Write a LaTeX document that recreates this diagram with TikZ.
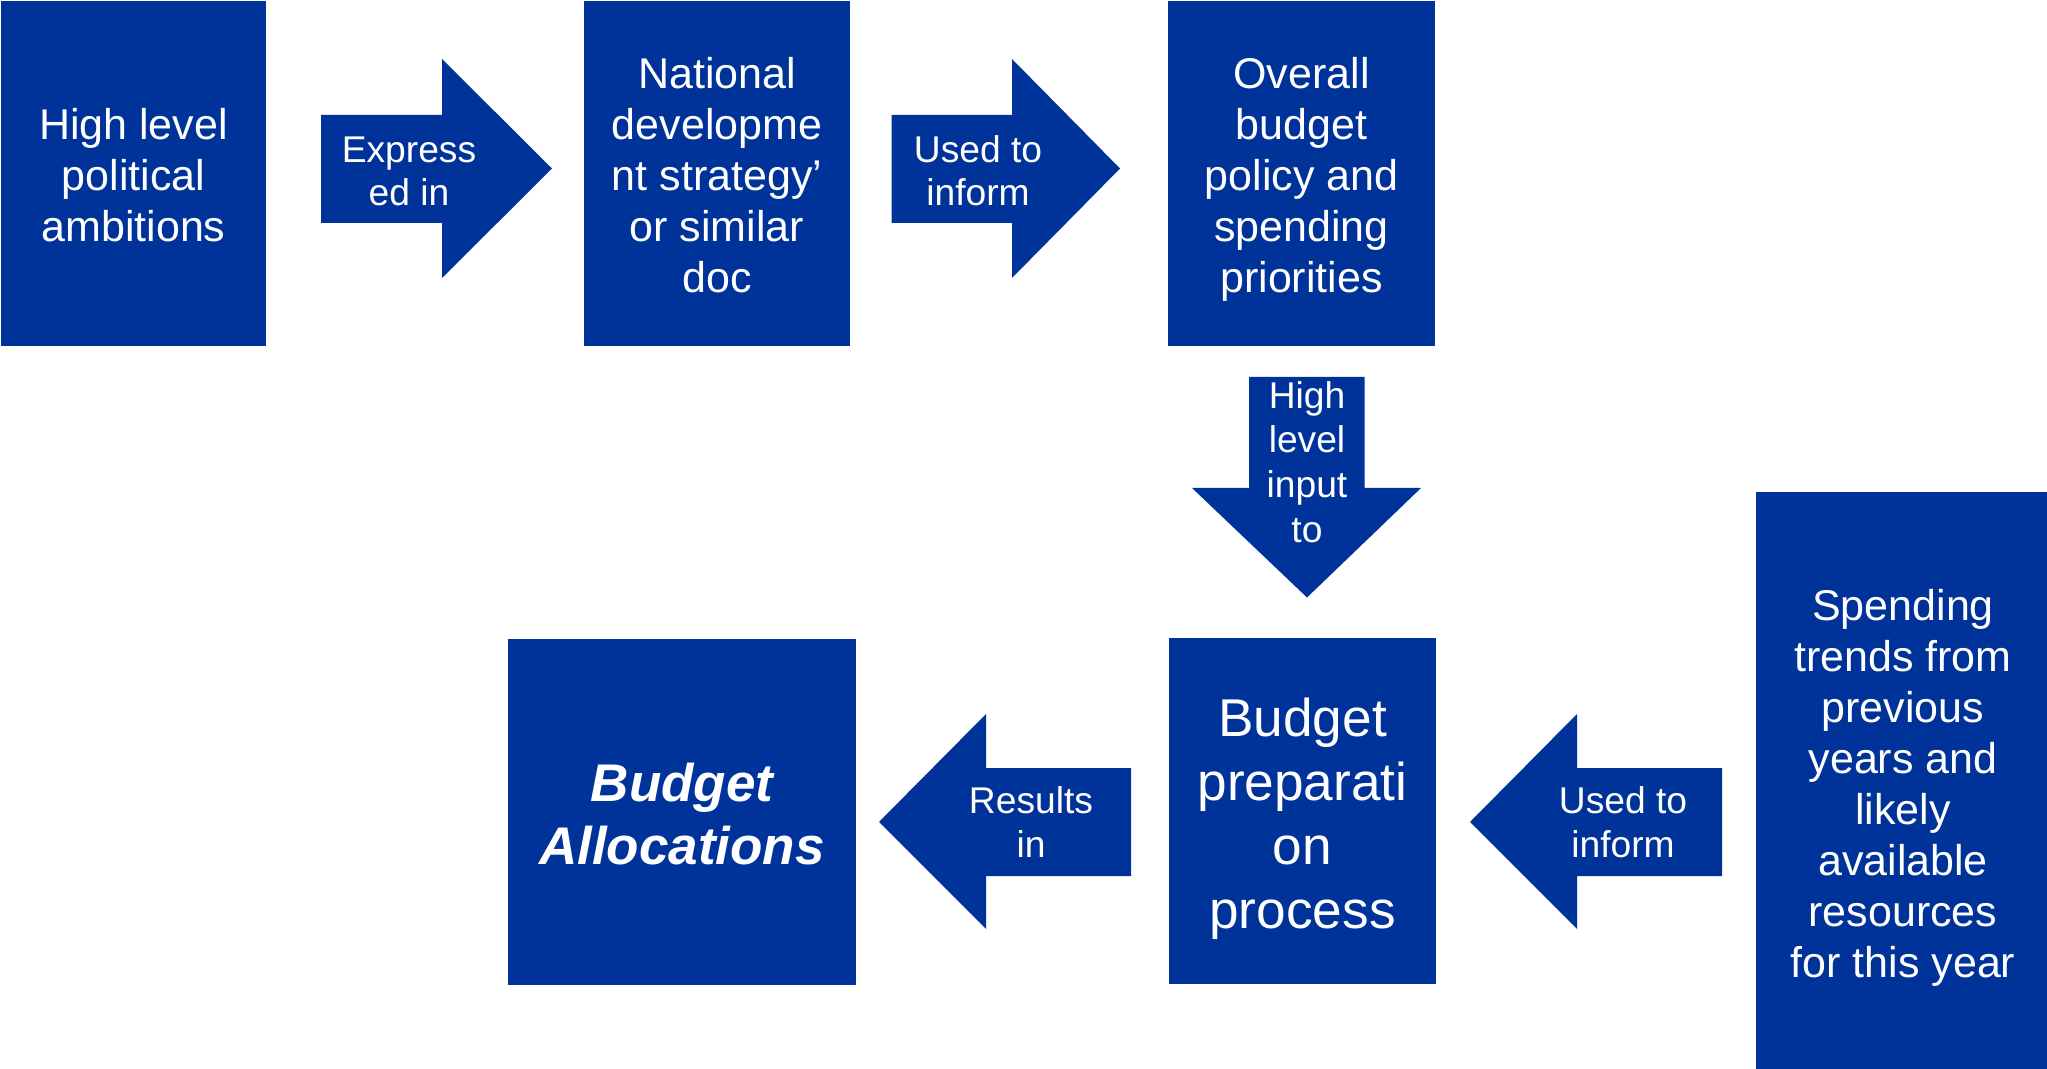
\documentclass[tikz,border=0pt]{standalone}
\usepackage{fontspec}
\setmainfont{Liberation Sans}
\definecolor{planblue}{RGB}{0,51,153}

% struts for first and last lines, so boxes centre on line height
\newcommand\topstrut{\rule{0pt}{1.005em}}
\newcommand\botstrut{\rule[-0.214em]{0pt}{0pt}}

\tikzset{
  block/.style={fill=planblue, text=white, align=center, inner sep=0pt,
    font=\fontsize{21.5}{25.5}\selectfont},
  bigblock/.style={block, font=\fontsize{26.6}{32}\selectfont},
  blockarrow/.style={fill=planblue},
  arrowtext/.style={text=white, align=center, inner sep=0pt,
    font=\fontsize{18.6}{21.8}\selectfont},
}

\begin{document}
\begin{tikzpicture}[x=0.5pt,y=-0.5pt]
\useasboundingbox (0,0) rectangle (2047,1069);

% top row
\node[block, minimum width=132.5pt, minimum height=172.5pt] (ambitions) at (133.5,173.5) {\topstrut High level\\political\\ambitions\botstrut};
\node[block, minimum width=133pt, minimum height=172.5pt] (strategy) at (717,173.5) {\topstrut National\\developme\\nt strategy’\\or similar\\doc\botstrut};
\node[block, minimum width=133.5pt, minimum height=172.5pt] (policy) at (1301.5,173.5) {\topstrut Overall\\budget\\policy and\\spending\\priorities\botstrut};

% bottom row
\node[bigblock, minimum width=174pt, minimum height=173pt, font=\fontsize{26.5}{31.3}\selectfont\bfseries\itshape] (alloc) at (682,812) {\topstrut Budget\\Allocations\botstrut};
\node[bigblock, minimum width=133.5pt, minimum height=173pt] (prep) at (1302.5,811) {\topstrut Budget\\preparati\\on\\process\botstrut};
\node[block, minimum width=147pt, minimum height=290pt] (trends) at (1903,782) {\topstrut Spending\\trends from\\previous\\years and\\likely\\available\\resources\\for this year\botstrut};

% block arrows
\fill[blockarrow] (321,115) -- (442,115) -- (442,59) -- (552,168.5) -- (442,278) -- (442,223) -- (321,223) -- cycle;
\node[arrowtext] (expressed) at (409,171.3) {Express\\ed in};

\fill[blockarrow] (891.5,115) -- (1012,115) -- (1012,59) -- (1120,168.5) -- (1012,278) -- (1012,223) -- (891.5,223) -- cycle;
\node[arrowtext] (inform1) at (978,170.6) {Used to\\inform};

\fill[blockarrow] (1249,377) -- (1364.5,377) -- (1364.5,488) -- (1421,488) -- (1307,597.5) -- (1192,488) -- (1249,488) -- cycle;
\node[arrowtext, font=\fontsize{18.6}{22.4}\selectfont] (input) at (1307,462) {High\\level\\input\\to};

\fill[blockarrow] (1131,768) -- (986,768) -- (986,714) -- (879,822) -- (986,929) -- (986,876) -- (1131,876) -- cycle;
\node[arrowtext] (results) at (1031,822) {Results\\in};

\fill[blockarrow] (1722,768) -- (1577,768) -- (1577,714) -- (1470,822) -- (1577,929) -- (1577,876) -- (1722,876) -- cycle;
\node[arrowtext] (inform2) at (1623,822) {Used to\\inform};

\end{tikzpicture}
\end{document}
